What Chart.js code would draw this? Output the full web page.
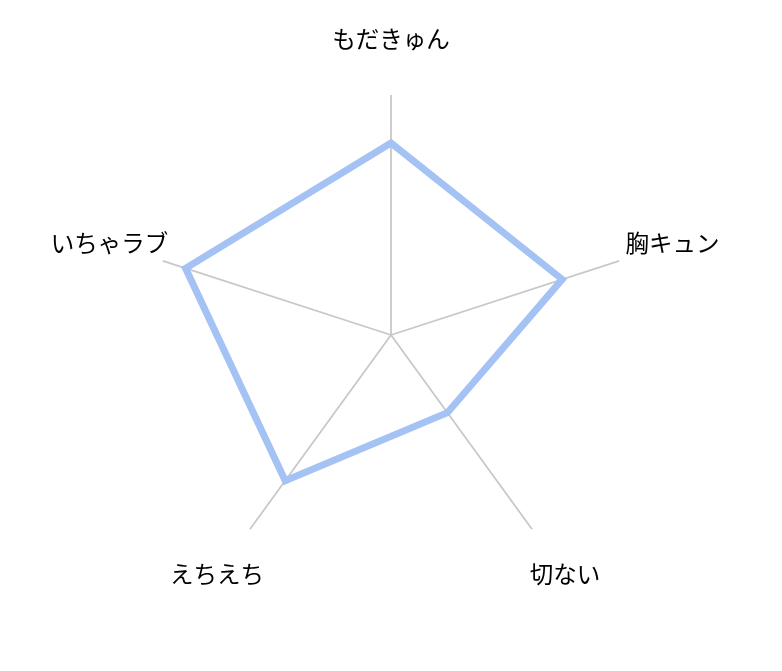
<!DOCTYPE html>
<html>
<head>
<meta charset="utf-8">
<script src="https://cdn.jsdelivr.net/npm/chart.js@4"></script>
<style>
  html, body { margin: 0; padding: 0; background: #fff; }
  #wrap { width: 782px; height: 671px; }
</style>
</head>
<body>
<div id="wrap"><canvas id="radar"></canvas></div>
<script>
// Chart data
const categories = ['もだきゅん', '胸キュン', '切ない', 'えちえち', 'いちゃラブ'];
const scores = [80, 75, 40, 75, 90];
const scoreMax = 100;

// Labels are centred on each axis, a bit past the end of it
const centeredLabels = {
    id: 'centeredLabels',
    afterDraw(chart) {
        const scale = chart.scales.r;
        const ctx = chart.ctx;
        ctx.save();
        ctx.font = '23.5px "Noto Sans CJK JP", "Noto Sans", sans-serif';
        ctx.fillStyle = '#000';
        ctx.textAlign = 'center';
        ctx.textBaseline = 'middle';
        categories.forEach((label, i) => {
            const pos = scale.getPointPosition(i, scale.drawingArea + 56);
            ctx.fillText(label, pos.x, pos.y);
        });
        ctx.restore();
    }
};

const ctx = document.getElementById('radar').getContext('2d');
new Chart(ctx, {
    type: 'radar',
    data: {
        labels: categories,
        datasets: [
            {
                data: scores,
                borderColor: '#a4c2f4',
                borderWidth: 7,
                backgroundColor: 'rgba(0,0,0,0)',
                fill: false,
                pointRadius: 0,
                pointHoverRadius: 0,
                borderJoinStyle: 'miter'
            }
        ]
    },
    options: {
        responsive: true,
        maintainAspectRatio: false,
        animation: false,
        layout: { padding: { top: 95, bottom: 96, left: 0, right: 0 } },
        plugins: {
            legend: { display: false },
            tooltip: { enabled: false }
        },
        scales: {
            r: {
                min: 0,
                max: scoreMax,
                ticks: { display: false },
                grid: { display: false },
                angleLines: { color: '#c8c8c8', lineWidth: 1.8 },
                pointLabels: { display: false }
            }
        }
    },
    plugins: [centeredLabels]
});
</script>
</body>
</html>
